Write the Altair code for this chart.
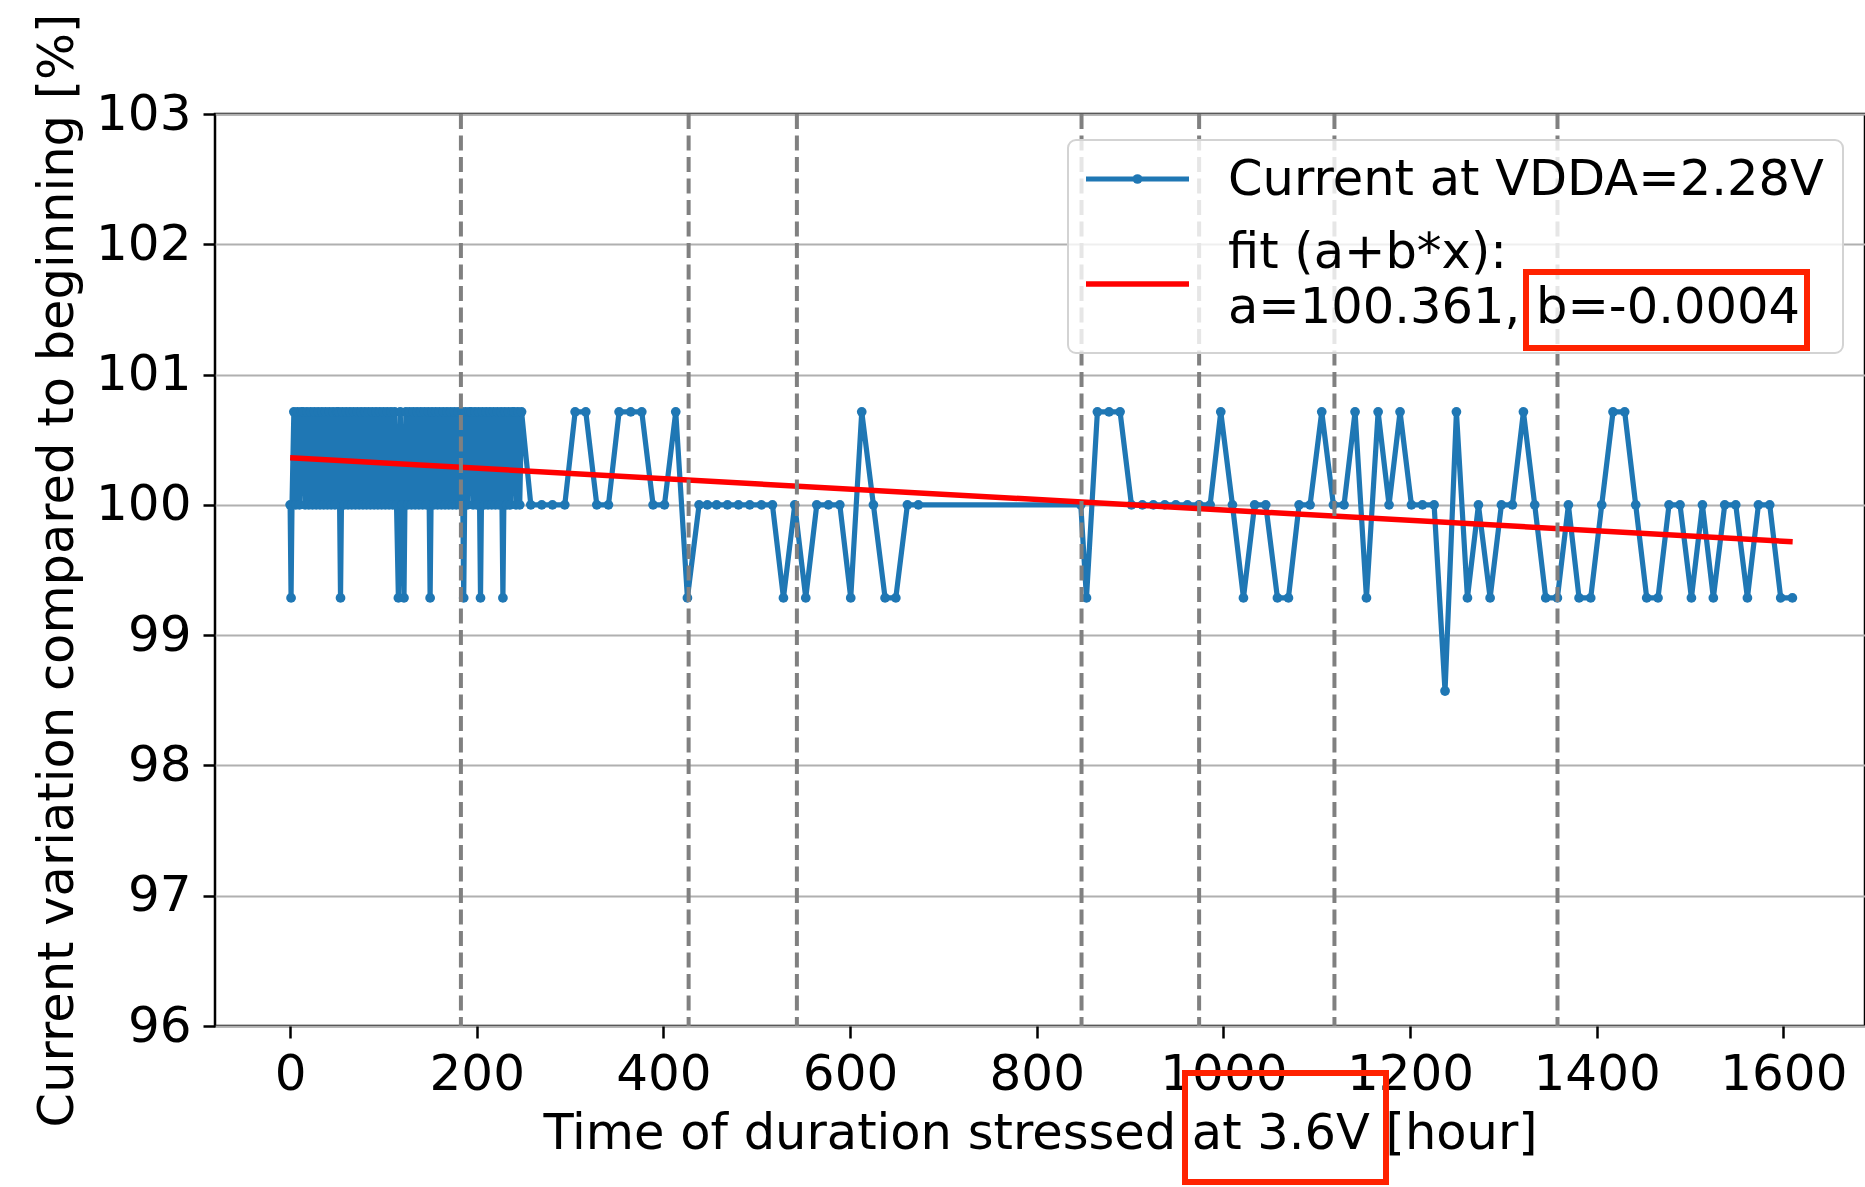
import altair as alt
import pandas as pd

# ---------------- data ----------------
dense_hours = [0, 1, 2, 4, 6, 8, 10, 12, 14, 16,
               18, 20, 22, 24, 26, 28, 30, 32, 34, 36,
               38, 40, 42, 44, 46, 48, 50, 52, 54, 56,
               58, 60, 62, 64, 66, 68, 70, 72, 74, 76,
               78, 80, 82, 84, 86, 88, 90, 92, 94, 96,
               98, 100, 102, 104, 106, 108, 110, 112, 114, 116,
               118, 120, 122, 124, 126, 128, 130, 132, 134, 136,
               138, 140, 142, 144, 146, 148, 150, 152, 154, 156,
               158, 160, 162, 164, 166, 168, 170, 172, 174, 176,
               178, 180, 182, 184, 186, 188, 190, 192, 194, 196,
               198, 200, 202, 204, 206, 208, 210, 212, 214, 216,
               218, 220, 222, 224, 226, 228, 230, 232, 234, 236,
               238, 240, 242, 244, 246, 248]
dense_values = [100.0, 99.286, 100.0, 100.714, 100.0, 100.714, 100.0, 100.714, 100.714, 100.0,
                100.714, 100.0, 100.714, 100.0, 100.714, 100.0, 100.714, 100.0, 100.714, 100.0,
                100.714, 100.0, 100.714, 100.0, 100.714, 100.0, 100.714, 100.714, 99.286, 100.714,
                100.0, 100.714, 100.0, 100.714, 100.0, 100.714, 100.0, 100.714, 100.0, 100.714,
                100.0, 100.714, 100.0, 100.714, 100.0, 100.714, 100.0, 100.714, 100.0, 100.714,
                100.0, 100.714, 100.0, 100.714, 100.0, 100.714, 100.0, 100.714, 100.0, 99.286,
                100.714, 100.0, 99.286, 100.714, 100.0, 100.714, 100.0, 100.714, 100.0, 100.714,
                100.0, 100.714, 100.0, 100.714, 100.0, 100.714, 99.286, 100.714, 100.0, 100.714,
                100.0, 100.714, 100.0, 100.714, 100.0, 100.714, 100.0, 100.714, 100.0, 100.714,
                100.0, 100.714, 100.0, 100.714, 99.286, 100.714, 100.0, 100.714, 100.714, 100.0,
                100.714, 100.0, 100.714, 99.286, 100.714, 100.0, 100.714, 100.0, 100.714, 100.0,
                100.714, 100.0, 100.714, 100.0, 100.714, 99.286, 100.714, 100.0, 100.714, 100.0,
                100.714, 100.714, 100.0, 100.714, 100.0, 100.714]

sparse_hours = [257.9, 269.6, 281.1, 294.3, 305.4, 316.8, 328.6, 341.1, 352.5, 365.0,
                376.8, 388.9, 401.1, 413.2, 425.7, 438.2, 447.0, 457.0, 468.6, 480.4,
                492.5, 505.0, 516.8, 528.6, 540.7, 552.5, 564.3, 576.8, 589.0, 600.7,
                612.5, 625.0, 637.5, 649.0, 661.4, 673.2, 847.2, 853.3, 865.0, 877.5,
                889.3, 901.5, 913.2, 925.0, 937.2, 949.0, 961.5, 974.0, 985.8, 997.2,
                1009.7, 1021.5, 1033.5, 1045.4, 1057.9, 1069.7, 1081.1, 1092.9, 1105.4, 1117.9,
                1129.3, 1141.1, 1153.3, 1165.8, 1177.5, 1189.3, 1201.5, 1213.3, 1225.8, 1237.5,
                1249.7, 1261.5, 1273.3, 1285.8, 1297.9, 1309.7, 1321.5, 1333.6, 1345.4, 1357.9,
                1369.7, 1381.1, 1393.6, 1405.4, 1417.5, 1430.0, 1441.8, 1453.6, 1465.7, 1477.5,
                1489.3, 1501.5, 1513.3, 1525.0, 1537.2, 1549.0, 1561.5, 1573.3, 1585.4, 1597.2,
                1609.7]
sparse_values = [100.0, 100.0, 100.0, 100.0, 100.714, 100.714, 100.0, 100.0, 100.714, 100.714,
                 100.714, 100.0, 100.0, 100.714, 99.286, 100.0, 100.0, 100.0, 100.0, 100.0,
                 100.0, 100.0, 100.0, 99.286, 100.0, 99.286, 100.0, 100.0, 100.0, 99.286,
                 100.714, 100.0, 99.286, 99.286, 100.0, 100.0, 100.0, 99.286, 100.714, 100.714,
                 100.714, 100.0, 100.0, 100.0, 100.0, 100.0, 100.0, 100.0, 100.0, 100.714,
                 100.0, 99.286, 100.0, 100.0, 99.286, 99.286, 100.0, 100.0, 100.714, 100.0,
                 100.0, 100.714, 99.286, 100.714, 100.0, 100.714, 100.0, 100.0, 100.0, 98.571,
                 100.714, 99.286, 100.0, 99.286, 100.0, 100.0, 100.714, 100.0, 99.286, 99.286,
                 100.0, 99.286, 99.286, 100.0, 100.714, 100.714, 100.0, 99.286, 99.286, 100.0,
                 100.0, 99.286, 100.0, 99.286, 100.0, 100.0, 99.286, 100.0, 100.0, 99.286,
                 99.286]

fit_hours = [0, 1610]
fit_values = [100.361, 99.717]

marker_hours = [183, 427, 543, 848, 974, 1119, 1358]

x_ticks = [0, 200, 400, 600, 800, 1000, 1200, 1400, 1600]
y_ticks = [96, 97, 98, 99, 100, 101, 102, 103]

legend_label_1 = "Current at VDDA=2.28V"
legend_label_2a = "fit (a+b*x):"
legend_label_2b = "a=100.361, b=-0.0004"
x_title = "Time of duration stressed at 3.6V [hour]"
y_title = "Current variation compared to beginning [%]"

# ---------------- frames ----------------
series = pd.DataFrame({"hour": dense_hours + sparse_hours,
                       "value": dense_values + sparse_values})
fit = pd.DataFrame({"hour": fit_hours, "value": fit_values})
markers = pd.DataFrame({"hour": marker_hours})
one = pd.DataFrame({"k": [0]})

FONT = "DejaVu Sans"
BLUE = "#1f77b4"
TICK_FS = 50
TITLE_FS = 49.5
LEG_FS = 49.5
LINE_W = 5.2
DOT_SIZE = 95

xscale = alt.Scale(domain=[-80.5, 1687.5], nice=False, zero=False)
yscale = alt.Scale(domain=[96, 103], nice=False, zero=False)

xaxis = alt.Axis(values=x_ticks, format="d", title=x_title, grid=False, domain=False,
                 labelFontSize=TICK_FS, titleFontSize=TITLE_FS, labelFont=FONT, titleFont=FONT,
                 labelColor="black", titleColor="black", titleFontWeight="normal",
                 tickSize=12, tickWidth=2.5, tickColor="black", labelPadding=11,
                 titleY=122, titleBaseline="alphabetic", labelFlush=False)
yaxis = alt.Axis(values=y_ticks, format="d", title=y_title, grid=True, gridColor="#b0b0b0",
                 gridWidth=1.8, domain=False,
                 labelFontSize=TICK_FS, titleFontSize=TITLE_FS, labelFont=FONT, titleFont=FONT,
                 labelColor="black", titleColor="black", titleFontWeight="normal",
                 tickSize=12, tickWidth=2.5, tickColor="black", labelPadding=12,
                 titleX=-143, titleY=456, titleBaseline="alphabetic", labelFlush=False)

line = alt.Chart(series).mark_line(
    color=BLUE, strokeWidth=LINE_W,
    point=alt.OverlayMarkDef(filled=True, size=DOT_SIZE, color=BLUE, opacity=1)
).encode(
    x=alt.X("hour:Q", scale=xscale, axis=xaxis),
    y=alt.Y("value:Q", scale=yscale, axis=yaxis),
    order="hour:Q",
)

fit_line = alt.Chart(fit).mark_line(color="#ff0000", strokeWidth=5.5).encode(
    x=alt.X("hour:Q", scale=xscale),
    y=alt.Y("value:Q", scale=yscale),
)

vlines = alt.Chart(markers).mark_rule(color="#808080", strokeWidth=4,
                                      strokeDash=[15, 6.5]).encode(
    x=alt.X("hour:Q", scale=xscale),
)

# ---- legend (drawn in pixel space) ----
legend_box = alt.Chart(one).mark_rect(
    fill="white", fillOpacity=0.8, stroke="#d3d3d3", strokeWidth=2, cornerRadius=8
).encode(x=alt.value(853), x2=alt.value(1628), y=alt.value(26), y2=alt.value(239))

leg_blue = alt.Chart(one).mark_rule(color=BLUE, strokeWidth=LINE_W).encode(
    x=alt.value(871), x2=alt.value(974), y=alt.value(65))
leg_dot = alt.Chart(one).mark_point(filled=True, size=DOT_SIZE, color=BLUE, opacity=1).encode(
    x=alt.value(922.5), y=alt.value(65))
leg_red = alt.Chart(one).mark_rule(color="#ff0000", strokeWidth=5.5).encode(
    x=alt.value(871), x2=alt.value(974), y=alt.value(170))

def label(text, y):
    return alt.Chart(one).mark_text(
        text=text, align="left", baseline="alphabetic", fontSize=LEG_FS,
        font=FONT, color="black"
    ).encode(x=alt.value(1013), y=alt.value(y))

leg_t1 = label(legend_label_1, 81)
leg_t2 = label(legend_label_2a, 154)
leg_t3 = label(legend_label_2b, 209)

# ---- red annotation boxes ----
box_b = alt.Chart(one).mark_rect(fillOpacity=0, stroke="#ff2200", strokeWidth=6).encode(
    x=alt.value(1311), x2=alt.value(1592), y=alt.value(158), y2=alt.value(234))
box_v = alt.Chart(one).mark_rect(fillOpacity=0, stroke="#ff2200", strokeWidth=6).encode(
    x=alt.value(970), x2=alt.value(1171), y=alt.value(959), y2=alt.value(1068))

chart = alt.layer(
    line, fit_line, vlines, legend_box, leg_blue, leg_dot, leg_red,
    leg_t1, leg_t2, leg_t3, box_b, box_v
).properties(
    width=1650, height=912,
    padding={"left": 215, "top": 114, "right": 0, "bottom": 161},
    autosize=alt.AutoSizeParams(type="none"),
    background="white",
).configure_view(
    stroke="black", strokeWidth=2.5
)

chart.save("out.html", embed_options={"renderer": "svg", "actions": False})
